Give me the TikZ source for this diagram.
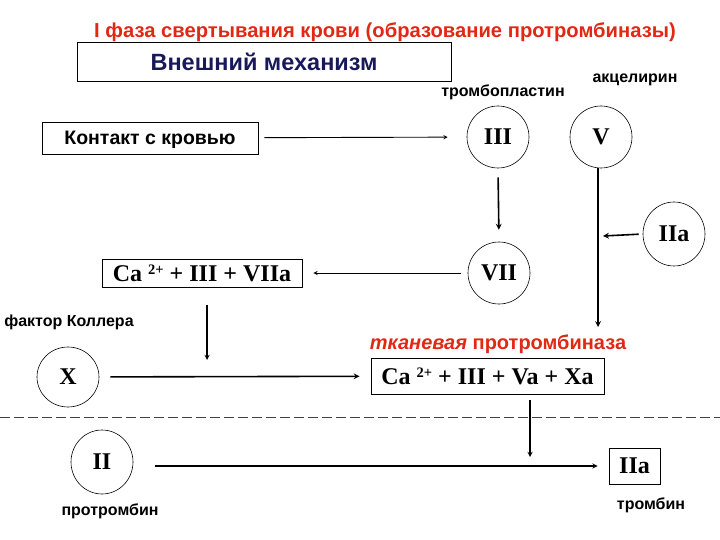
\documentclass[tikz,border=0pt]{standalone}
\usepackage{fontspec}
\setmainfont{Liberation Sans}
\newfontfamily\numfont{Liberation Serif}
\usepackage{tikz}
\usetikzlibrary{shapes.geometric, arrows, positioning}
\definecolor{titleColor}{RGB}{225,40,20}
\definecolor{headColor}{RGB}{25,25,90}
\newcommand{\calcium}{Ca \raisebox{0.28em}{\fontsize{14.5}{14.5}\selectfont 2+}}
\tikzstyle{factor} = [ellipse, draw, line width=0.6pt, minimum width=62pt, minimum height=62pt, inner sep=0pt, font=\numfont\bfseries\fontsize{24}{26}\selectfont]
\tikzstyle{frame} = [rectangle, draw, line width=0.8pt, inner sep=0pt, text depth=0pt]
\tikzstyle{complex} = [frame, font=\numfont\bfseries\fontsize{24}{26}\selectfont]
\tikzstyle{caption} = [anchor=base, inner sep=0pt, font=\bfseries\fontsize{16}{18}\selectfont]
\tikzstyle{arrow} = [line width=0.9pt,->,>=stealth]
\tikzstyle{boldarrow} = [arrow, line width=1.6pt]

\begin{document}
\begin{tikzpicture}[x=1pt,y=-1pt]
    \useasboundingbox (0,0) rectangle (720,540);

    % heading
    \node (title) [caption, text=titleColor, font=\bfseries\fontsize{20.2}{22}\selectfont] at (385,38) {I фаза свертывания крови (образование протромбиназы)};
    \node (ext) [frame, minimum width=374pt, minimum height=39pt, text=headColor, font=\bfseries\fontsize{23.5}{25}\selectfont] at (264,62) {Внешний механизм};

    % tissue path
    \node (contact) [frame, minimum width=216pt, minimum height=32pt, font=\bfseries\fontsize{19.5}{22}\selectfont] at (150,138) {Контакт с кровью};
    \node (III) [factor] at (498,137) {III};
    \node (V) [factor] at (601,137) {V};
    \node (VII) [factor] at (499,273) {VII};
    \node (IIa) [factor, minimum height=64pt] at (674,234) {IIa};
    \node (c7) [complex, minimum width=200pt, minimum height=28pt] at (202,273) {\calcium{} + III + VIIa};
    \node (X) [factor, minimum height=60pt] at (68,377) {X};
    \node (cva) [complex, minimum width=233pt, minimum height=36pt] at (487.5,376) {\calcium{} + III + Va + Xa};
    \node (II) [factor, minimum height=64pt] at (102,462) {II};
    \node (thr) [complex, minimum width=51pt, minimum height=36pt] at (634.5,466) {IIa};

    \node (tpl) [caption] at (503,96.5) {тромбопластин};
    \node (acc) [caption] at (635,83) {акцелирин};
    \node (koller) [caption] at (69,326) {фактор Коллера};
    \node (tk) [caption, text=titleColor, font=\bfseries\fontsize{20}{22}\selectfont] at (498,349) {\textit{тканевая} протромбиназа};
    \node (ptr) [caption] at (110,515) {протромбин};
    \node (tr) [caption] at (651,509) {тромбин};

    % free ends
    \coordinate (vend) at (598,327);
    \coordinate (vhit) at (603,236);
    \coordinate (c7end) at (207,360);
    \coordinate (cvend) at (530,457);
    \coordinate (sepL) at (0,417);
    \coordinate (sepR) at (720,417);

    \draw [arrow, shorten <=6pt, shorten >=19pt] (contact) -- (III);
    \draw [boldarrow, shorten <=9pt, shorten >=12pt] (III.south) -- (VII.north);
    \draw [boldarrow] (V.south -| vend) -- (vend);
    \draw [boldarrow, shorten <=4pt] (IIa.west) -- (vhit);
    \draw [arrow, shorten <=7pt, shorten >=11pt] (VII) -- (c7);
    \draw [boldarrow, line width=1.3pt, shorten <=18pt] (c7.south -| c7end) -- (c7end);
    \draw [boldarrow, shorten <=11pt, shorten >=11pt] (X) -- (cva);
    \draw [boldarrow, line width=1.3pt, shorten <=6pt] (cva.south -| cvend) -- (cvend);
    \draw [boldarrow, line width=1.3pt, shorten <=22pt, shorten >=11pt] (II.east |- thr.west) -- (thr.west);

    % border between the stages
    \draw [black!75, line width=0.9pt, dash pattern=on 10pt off 4pt] (sepL) -- (sepR);
\end{tikzpicture}
\end{document}
